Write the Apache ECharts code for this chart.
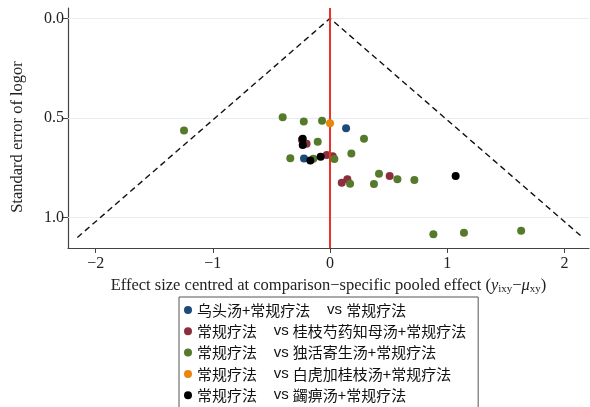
<!DOCTYPE html>
<html><head><meta charset="utf-8">
<script src="https://cdn.jsdelivr.net/npm/echarts@6/dist/echarts.min.js"></script>
<style>html,body{margin:0;padding:0;background:#fff}#c{width:590px;height:407px}</style>
</head><body><div id="c"></div>
<script>
// Series names (legend)
const seriesNames = [
  '乌头汤+常规疗法 vs 常规疗法',
  '常规疗法 vs 桂枝芍药知母汤+常规疗法',
  '常规疗法 vs 独活寄生汤+常规疗法',
  '常规疗法 vs 白虎加桂枝汤+常规疗法',
  '常规疗法 vs 蠲痹汤+常规疗法'
];
const seriesColors = ['#1d4a78', '#8c2e3c', '#557a2b', '#e8870a', '#000000'];
// [centred effect size, standard error]
const blueData = [[0.137,0.552],[-0.222,0.704]];
const redData = [[-0.24,0.61],[-0.20,0.63],[-0.028,0.686],[0.023,0.692],[0.10,0.826],[0.148,0.808],[0.509,0.791]];
const greenData = [[-1.246,0.563],[-0.404,0.497],[-0.224,0.518],[-0.068,0.514],[0.29,0.604],[-0.105,0.620],[-0.339,0.703],[-0.142,0.705],[0.037,0.706],[0.182,0.679],[0.171,0.830],[0.375,0.832],[0.418,0.780],[0.575,0.808],[0.72,0.811],[0.882,1.084],[1.143,1.076],[1.631,1.066]];
const orangeData = [[0.0,0.527]];
const blackData = [[-0.233,0.605],[-0.233,0.636],[-0.168,0.714],[-0.080,0.695],[1.072,0.791]];
const groups = [blueData, redData, greenData, orangeData, blackData];
// funnel (pseudo 95% limits)
const funnelSEMax = 1.1;
const funnelData = [[-1.96*funnelSEMax, funnelSEMax],[0,0],[1.96*funnelSEMax, funnelSEMax]];
const xTicks = [-2,-1,0,1,2];
const yTicks = [0,0.5,1.0];

const chart = echarts.init(document.getElementById('c'), null, {renderer:'canvas'});
const serif = '"Liberation Serif","DejaVu Serif",serif';
const cjk = '"Noto Sans CJK SC",serif';

const scatterSeries = groups.map((d,i)=>({
  type:'scatter', name: seriesNames[i], data: d, symbolSize: 8,
  itemStyle:{color: seriesColors[i], opacity:1}, z: 3+i, silent:true
}));

chart.setOption({
  animation:false,
  grid:{left:68, top:8, right:1, bottom:159, containLabel:false},
  xAxis:{
    type:'value', min:-2.236, max:2.21,
    axisLine:{show:true, onZero:false, lineStyle:{color:'#444', width:1.2}},
    axisTick:{show:true, length:5, customValues:xTicks, lineStyle:{color:'#444'}},
    axisLabel:{customValues:xTicks, color:'#222', fontFamily:serif, fontSize:16, margin:8,
      formatter:v=>String(v).replace('-','\u2212')},
    splitLine:{show:false},
    name:'{a|Effect size centred at comparison\u2212specific pooled effect (}{i|y}{s|ixy}{a|\u2212}{i|\u03bc}{s|xy}{a|)}',
    nameLocation:'middle', nameGap:28,
    nameTextStyle:{rich:{
      a:{fontFamily:serif, fontSize:16.5, color:'#222'},
      i:{fontFamily:serif, fontSize:16.5, fontStyle:'italic', color:'#222'},
      s:{fontFamily:serif, fontSize:11, color:'#222', padding:[8,0,0,0]}
    }}
  },
  yAxis:{
    type:'value', inverse:true, min:-0.052, max:1.153,
    axisLine:{show:true, onZero:false, lineStyle:{color:'#444', width:1.2}},
    axisTick:{show:true, length:5, customValues:yTicks, lineStyle:{color:'#444'}},
    axisLabel:{customValues:yTicks, color:'#222', fontFamily:serif, fontSize:16, margin:4,
      formatter:v=>v.toFixed(1)},
    splitLine:{show:false},
    name:'Standard error of logor', nameLocation:'middle', nameGap:42, nameRotate:90,
    nameTextStyle:{fontFamily:serif, fontSize:16.5, color:'#222', padding:[0,18,0,0]}
  },
  legend:{
    orient:'vertical', left:179, top:297, height:300, padding:[5,12,5,5], itemGap:5.3,
    borderColor:'#555', borderWidth:1, borderRadius:0,
    icon:'circle', itemWidth:8, itemHeight:8,
    data: seriesNames,
    textStyle:{fontSize:15, lineHeight:16, color:'#111', fontFamily:cjk,
      rich:{
        c:{fontSize:15, fontFamily:cjk, color:'#111'},
        v:{fontSize:15, fontFamily:'"Liberation Sans","DejaVu Sans",sans-serif', color:'#111'}
      }},
    formatter:n=>{
      const p = n.split(' vs ');
      return '{c|'+p[0]+'}{v|    vs }{c|'+p[1]+'}';
    }
  },
  series:[
    {type:'line', data:funnelData, symbol:'none', silent:true, z:2,
     lineStyle:{color:'#111', width:1.4, type:[6,4]},
     markLine:{silent:true, symbol:'none', label:{show:false},
       lineStyle:{color:'#e5eef1', width:1.2, type:'solid'},
       data: yTicks.map(v=>({yAxis:v})), z:1}},
    {type:'line', data:[], silent:true, z:2,
     markLine:{silent:true, symbol:'none', label:{show:false},
       lineStyle:{color:'#e8322a', width:2, type:'solid'},
       data:[{xAxis:0}]}},
    ...scatterSeries
  ]
});
</script></body></html>
